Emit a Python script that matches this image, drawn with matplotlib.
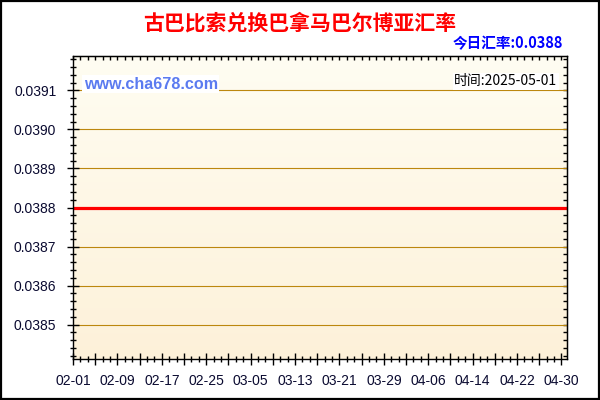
import matplotlib
matplotlib.use("Agg")
import matplotlib.pyplot as plt
import matplotlib.dates as mdates
from matplotlib.ticker import AutoMinorLocator
from matplotlib.patches import Rectangle
import numpy as np
import pandas as pd

title = "古巴比索兑换巴拿马巴尔博亚汇率"
today_rate = "今日汇率:0.0388"
site = "www.cha678.com"
stamp = "时间:2025-05-01"

# one rate per day, 02-01 .. 05-01
dates = pd.date_range("2025-02-01", "2025-05-01", freq="D")
rates = [
    0.0388, 0.0388, 0.0388, 0.0388, 0.0388, 0.0388, 0.0388, 0.0388, 0.0388, 0.0388,
    0.0388, 0.0388, 0.0388, 0.0388, 0.0388, 0.0388, 0.0388, 0.0388, 0.0388, 0.0388,
    0.0388, 0.0388, 0.0388, 0.0388, 0.0388, 0.0388, 0.0388, 0.0388, 0.0388, 0.0388,
    0.0388, 0.0388, 0.0388, 0.0388, 0.0388, 0.0388, 0.0388, 0.0388, 0.0388, 0.0388,
    0.0388, 0.0388, 0.0388, 0.0388, 0.0388, 0.0388, 0.0388, 0.0388, 0.0388, 0.0388,
    0.0388, 0.0388, 0.0388, 0.0388, 0.0388, 0.0388, 0.0388, 0.0388, 0.0388, 0.0388,
    0.0388, 0.0388, 0.0388, 0.0388, 0.0388, 0.0388, 0.0388, 0.0388, 0.0388, 0.0388,
    0.0388, 0.0388, 0.0388, 0.0388, 0.0388, 0.0388, 0.0388, 0.0388, 0.0388, 0.0388,
    0.0388, 0.0388, 0.0388, 0.0388, 0.0388, 0.0388, 0.0388, 0.0388, 0.0388, 0.0388,
]
y_ticks = [0.0385, 0.0386, 0.0387, 0.0388, 0.0389, 0.0390, 0.0391]

cjk = ["Noto Sans CJK SC", "DejaVu Sans"]
tick_font = "Liberation Sans"

fig = plt.figure(figsize=(6, 4), dpi=100)
fig.patch.set_facecolor("white")
ax = fig.add_axes([0.1217, 0.1025, 0.8233, 0.7575])

# pale yellow gradient background
grad = np.linspace(0, 1, 256).reshape(-1, 1)
top_c = np.array([255, 253, 242]) / 255
bot_c = np.array([253, 241, 217]) / 255
img = top_c * (1 - grad[..., None]) + bot_c * grad[..., None]
img = img.reshape(256, 1, 3)
ax.imshow(img, extent=[0, 1, 0, 1], transform=ax.transAxes, aspect="auto", zorder=0)

x = mdates.date2num(dates)
ax.set_xlim(x[0], x[-1])
mid = 0.0388
ax.set_ylim(mid * 0.99, mid * 1.01)

for yv in y_ticks:
    ax.axhline(yv, color="#BC870E", lw=0.8, zorder=1)

ax.plot(x, rates, color="#FF0000", lw=2.3, zorder=3)

# x ticks every 4 days, labels every 8
major = x[:-1:4]
labels = [dates[i].strftime("%m-%d") if (i // 4) % 2 == 0 else "" for i in range(0, len(x) - 1, 4)]
ax.set_xticks(major)
ax.set_xticklabels(labels)
ax.xaxis.set_minor_locator(AutoMinorLocator(3))
ax.set_yticks(y_ticks)
ax.set_yticklabels([f"{v:.4f}" for v in y_ticks])
ax.yaxis.set_minor_locator(AutoMinorLocator(5))

ax.tick_params(axis="both", which="major", direction="inout", length=8, width=1,
               colors="black", labelcolor="#0a0a30", labelsize=10)
ax.tick_params(axis="both", which="minor", direction="inout", length=5, width=1, colors="black")
ax.tick_params(axis="x", which="major", pad=7)
ax.tick_params(axis="y", which="major", pad=8)
for lab in ax.get_xticklabels() + ax.get_yticklabels():
    lab.set_fontfamily(tick_font)

for s in ax.spines.values():
    s.set_color("black")
    s.set_linewidth(1)
    s.set_zorder(5)

# top and right ticks pointing inward
secx = ax.secondary_xaxis("top")
secx.set_xticks(major)
secx.xaxis.set_minor_locator(AutoMinorLocator(3))
secx.tick_params(which="both", direction="in", length=3, width=1, labeltop=False)
secy = ax.secondary_yaxis("right")
secy.set_yticks(y_ticks)
secy.yaxis.set_minor_locator(AutoMinorLocator(5))
secy.tick_params(which="both", direction="in", length=3, width=1, labelright=False)

fig.text(0.5, 0.943, title, ha="center", va="center", color="#FF0000",
         fontsize=15, fontweight="bold", family=cjk)
fig.text(0.938, 0.892, today_rate, ha="right", va="center", color="#0000FF",
         fontsize=10.5, fontweight="bold", family=cjk)

ax.text(0.022, 0.907, site, transform=ax.transAxes, ha="left", va="center",
        color="#5B7BF0", fontsize=11.6, fontweight="bold", family="Liberation Sans",
        bbox=dict(facecolor="white", edgecolor="none", pad=1), zorder=4)
ax.text(0.98, 0.917, stamp, transform=ax.transAxes, ha="right", va="center",
        color="black", fontsize=10, family=cjk,
        bbox=dict(facecolor="white", edgecolor="none", pad=1), zorder=4)

fig.patches.append(Rectangle((0.0015, 0.0025), 0.997, 0.995, transform=fig.transFigure,
                             fill=False, edgecolor="black", lw=1.6))

fig.savefig("out.png", dpi=100)
